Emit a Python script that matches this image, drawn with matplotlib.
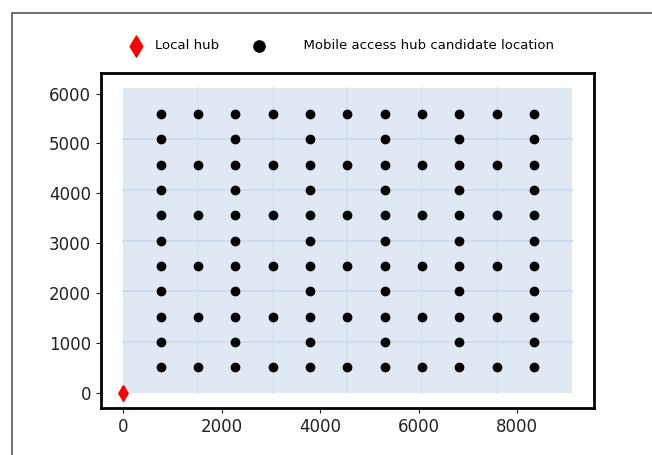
import matplotlib
matplotlib.use('Agg')
import matplotlib.pyplot as plt
from matplotlib.patches import Rectangle
import numpy as np

# Study area: 6 x 6 blocks (m)
block_x = [0, 1518, 3036, 4554, 6072, 7590, 9108]
block_y = [0, 1017, 2034, 3051, 4068, 5085, 6102]

# Candidate locations: full rows use every column, road rows every other one
cand_x_full = [759, 1518, 2277, 3036, 3795, 4554, 5313, 6072, 6831, 7590, 8349]
cand_y_full = [508, 1525, 2542, 3559, 4576, 5593]
cand_x_road = [759, 2277, 3795, 5313, 6831, 8349]
cand_y_road = [1017, 2034, 3051, 4068, 5085]

hub_x = [0]
hub_y = [0]

plt.rcParams.update({
    'font.family': 'DejaVu Sans',
    'xtick.labelsize': 12,
    'ytick.labelsize': 12,
})

fig = plt.figure(figsize=(6.52, 4.55), dpi=100)
ax = fig.add_axes([0.1545, 0.1033, 0.7565, 0.7357])

# area background and block boundaries
ax.add_patch(Rectangle((block_x[0], block_y[0]), block_x[-1] - block_x[0],
                       block_y[-1] - block_y[0], facecolor='#dfe8f3',
                       edgecolor='none', zorder=0))
for bx in block_x[1:-1]:
    ax.plot([bx, bx], [block_y[0], block_y[-1]], color='#d6e1f0', lw=1.2, zorder=1)
for by in block_y[1:-1]:
    ax.plot([block_x[0], block_x[-1]], [by, by], color='#cfdcee', lw=1.4, zorder=1)

gx1, gy1 = np.meshgrid(cand_x_full, cand_y_full)
gx2, gy2 = np.meshgrid(cand_x_road, cand_y_road)
cx = np.concatenate([gx1.ravel(), gx2.ravel()])
cy = np.concatenate([gy1.ravel(), gy2.ravel()])

h_hub = ax.scatter(hub_x, hub_y, marker='d', s=64, color='red', zorder=3)
h_cand = ax.scatter(cx, cy, marker='o', s=36, color='black', zorder=3)

for sp in ax.spines.values():
    sp.set_linewidth(2.0)
    sp.set_color('black')

ax.set_xticks([0, 2000, 4000, 6000, 8000])
ax.set_yticks([0, 1000, 2000, 3000, 4000, 5000, 6000])
ax.tick_params(colors='#222222', labelcolor='#222222')

fig.legend([h_hub, h_cand], ['Local hub', '      Mobile access hub candidate location'],
           loc='center', bbox_to_anchor=(0.519, 0.899), ncol=2, frameon=False,
           fontsize=9.5, markerscale=1.35, handletextpad=0.45, columnspacing=2.0)

# page frame around the figure
fig.add_artist(Rectangle((12.3 / 652, -0.5), 2.0, 0.5 + (1 - 12.7 / 455),
                         transform=fig.transFigure, fill=False,
                         edgecolor='#555555', lw=1.2, clip_on=False))

fig.savefig('out.png', dpi=100)
